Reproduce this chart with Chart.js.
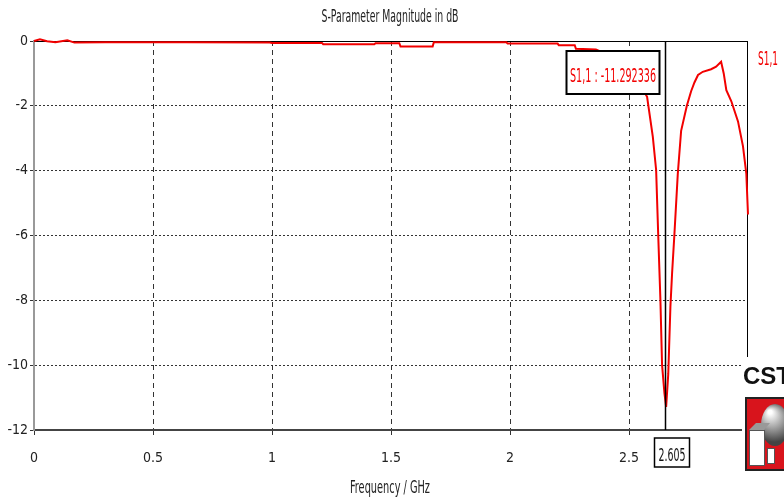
<!DOCTYPE html>
<html>
<head>
<meta charset="utf-8">
<title>S-Parameter Magnitude in dB</title>
<script src="https://cdn.jsdelivr.net/npm/chart.js@4/dist/chart.umd.min.js"></script>
<style>
  html, body { margin: 0; padding: 0; background: #fff; }
</style>
</head>
<body>
<canvas id="grafico" width="784" height="500"></canvas>
<script>
const frecuencias = [0, 0.025, 0.055, 0.09, 0.14, 0.17, 0.3, 0.644, 0.99, 1.0, 1.21, 1.215, 1.43, 1.435, 1.535, 1.54, 1.675, 1.68, 1.985, 1.99, 2.2, 2.205, 2.272, 2.277, 2.361, 2.42, 2.48, 2.53, 2.576, 2.6, 2.614, 2.623, 2.632, 2.639, 2.649, 2.656, 2.665, 2.674, 2.681, 2.691, 2.705, 2.719, 2.743, 2.761, 2.775, 2.79, 2.81, 2.845, 2.866, 2.887, 2.898, 2.909, 2.93, 2.958, 2.979, 2.993, 3.0];
const s11 = [0, 0.05, -0.01, -0.04, 0.02, -0.05, -0.04, -0.04, -0.05, -0.06, -0.06, -0.1, -0.1, -0.07, -0.07, -0.17, -0.17, -0.04, -0.04, -0.08, -0.08, -0.13, -0.13, -0.24, -0.26, -0.45, -0.75, -1.15, -1.72, -2.95, -3.98, -6.04, -8.0, -10.0, -10.87, -11.29, -10.27, -8.2, -7.17, -5.94, -4.1, -2.77, -2.0, -1.55, -1.28, -1.05, -0.95, -0.87, -0.79, -0.64, -1.0, -1.52, -1.86, -2.48, -3.25, -4.1, -5.35];

const ticksY = [0, -2, -4, -6, -8, -10, -12];
const ticksX = [0, 0.5, 1, 1.5, 2, 2.5, 3];

const titulo = "S-Parameter Magnitude in dB";
const tituloX = "Frequency / GHz";
const nombreSerie = "S1,1";
const marcadorTexto = "2.605";      // etiqueta del marcador en el eje X
const marcadorValor = "-11.292336"; // valor mostrado en el cuadro

const fuente = "'DejaVu Sans Condensed', 'DejaVu Sans', sans-serif";
const rojo = "#f20000";

const puntos = frecuencias.map((f, i) => ({ x: f, y: s11[i] }));

// Texto comprimido horizontalmente hasta el ancho pedido (la fuente original es muy angosta)
function textoAngosto(ctx, texto, x, y, size, ancho, color, align) {
    ctx.save();
    ctx.font = size + "px " + fuente;
    const escala = ancho / ctx.measureText(texto).width;
    ctx.fillStyle = color;
    ctx.textAlign = align || "center";
    ctx.textBaseline = "alphabetic";
    ctx.translate(x, y);
    ctx.scale(escala, 1);
    ctx.fillText(texto, 0, 0);
    ctx.restore();
}

// Dibuja títulos, marcador, cuadro de valor, leyenda y logo
const extras = {
    id: "extras",
    beforeDatasetsDraw(chart) {
        const { ctx, chartArea: a } = chart;
        ctx.save();
        ctx.strokeStyle = "#000";
        ctx.lineWidth = 1;
        ctx.beginPath();
        ctx.moveTo(a.left, a.top + 0.5);
        ctx.lineTo(a.right, a.top + 0.5);
        ctx.moveTo(a.right - 0.5, a.top);
        ctx.lineTo(a.right - 0.5, a.bottom);
        ctx.stroke();
        ctx.restore();
    },
    afterDraw(chart) {
        const { ctx, chartArea: a, scales } = chart;
        const centro = (a.left + a.right) / 2;

        // títulos
        textoAngosto(ctx, titulo, centro - 1, 22, 17, 137, "#222");
        textoAngosto(ctx, tituloX, centro - 1, 493, 17, 80, "#222");

        let iMin = 0;
        s11.forEach((v, i) => { if (v < s11[iMin]) iMin = i; });
        const mx = Math.round(scales.x.getPixelForValue(frecuencias[iMin])) - 0.5;

        ctx.save();
        // línea vertical del marcador
        ctx.strokeStyle = "#000";
        ctx.lineWidth = 1.5;
        ctx.beginPath();
        ctx.moveTo(mx, a.top);
        ctx.lineTo(mx, a.bottom);
        ctx.stroke();

        // cuadro con el valor
        ctx.fillStyle = "#fff";
        ctx.fillRect(mx - 99, a.top + 10, 93, 43);
        ctx.lineWidth = 2;
        ctx.strokeRect(mx - 99, a.top + 10, 93, 43);

        // etiqueta del marcador en el eje X
        ctx.fillStyle = "#fff";
        ctx.fillRect(mx - 11, a.bottom + 8, 35, 29);
        ctx.lineWidth = 1.5;
        ctx.strokeRect(mx - 11, a.bottom + 8, 35, 29);
        ctx.restore();

        textoAngosto(ctx, nombreSerie + " : " + marcadorValor, mx - 52.5, a.top + 41, 20, 86, rojo);
        textoAngosto(ctx, marcadorTexto, mx + 6.5, a.bottom + 31, 17, 27, "#111");
        textoAngosto(ctx, nombreSerie, a.right + 10, a.top + 24, 19, 20, rojo, "left");

        // logo CST
        ctx.save();
        ctx.fillStyle = "#fff";
        ctx.fillRect(a.right - 6, a.bottom - 73, 60, 150);
        ctx.fillStyle = "#111";
        ctx.textBaseline = "alphabetic";
        ctx.font = "bold 24px 'Liberation Sans', sans-serif";
        ctx.fillText("CST", a.right - 5, a.bottom - 46);
        ctx.fillStyle = "#222";
        ctx.fillRect(a.right - 3, a.bottom - 33, 45, 74);
        ctx.fillStyle = "#d8141c";
        ctx.fillRect(a.right - 1, a.bottom - 31, 41, 70);
        const g = ctx.createRadialGradient(a.right + 22, a.bottom - 18, 2, a.right + 26, a.bottom - 8, 20);
        g.addColorStop(0, "#fff");
        g.addColorStop(1, "#444");
        ctx.fillStyle = g;
        ctx.beginPath();
        ctx.ellipse(a.right + 27, a.bottom - 5, 14, 21, 0, 0, 2 * Math.PI);
        ctx.fill();
        ctx.fillStyle = "#999";
        ctx.beginPath();
        ctx.moveTo(a.right + 1, a.bottom);
        ctx.lineTo(a.right + 8, a.bottom - 7);
        ctx.lineTo(a.right + 22, a.bottom - 7);
        ctx.lineTo(a.right + 16, a.bottom);
        ctx.fill();
        ctx.fillStyle = "#fff";
        ctx.fillRect(a.right + 1, a.bottom, 16, 36);
        ctx.strokeStyle = "#555";
        ctx.lineWidth = 1;
        ctx.strokeRect(a.right + 1.5, a.bottom + 0.5, 15, 35);
        ctx.fillRect(a.right + 19, a.bottom + 18, 8, 16);
        ctx.strokeRect(a.right + 19.5, a.bottom + 18.5, 7, 15);
        ctx.restore();
    }
};

new Chart(document.getElementById("grafico"), {
    type: "line",
    data: {
        datasets: [{
            label: nombreSerie,
            data: puntos,
            borderColor: rojo,
            borderWidth: 2,
            pointRadius: 0,
            tension: 0,
            fill: false,
            clip: 4
        }]
    },
    options: {
        responsive: false,
        animation: false,
        events: [],
        layout: { padding: { top: 41, right: 36, bottom: 0, left: 0 } },
        plugins: {
            legend: { display: false },
            tooltip: { enabled: false },
            title: { display: false }
        },
        scales: {
            x: {
                type: "linear",
                min: 0,
                max: 3,
                afterFit: s => { s.height = 70; },
                afterBuildTicks: s => { s.ticks = ticksX.map(v => ({ value: v })); },
                ticks: {
                    color: "#222",
                    font: { family: fuente, size: 14 },
                    padding: 15,
                    maxRotation: 0,
                    callback: v => (v === 3 ? "" : String(v))
                },
                grid: {
                    color: c => (c.tick && (c.tick.value === 0 || c.tick.value === 3) ? "rgba(0,0,0,0)" : "#333"),
                    tickColor: "#333",
                    tickLength: 5,
                    lineWidth: 1
                },
                border: { color: "#444", width: 2, dash: [5, 4] }
            },
            y: {
                min: -12,
                max: 0,
                afterFit: s => { s.width = 34; },
                afterBuildTicks: s => { s.ticks = ticksY.map(v => ({ value: v })); },
                ticks: {
                    color: "#222",
                    font: { family: fuente, size: 14 },
                    padding: 2
                },
                grid: {
                    color: c => (c.tick && (c.tick.value === 0 || c.tick.value === -12) ? "rgba(0,0,0,0)" : "#333"),
                    tickColor: "#333",
                    tickLength: 4,
                    lineWidth: 1
                },
                border: { color: "#999", width: 2, dash: [2, 2] }
            }
        }
    },
    plugins: [extras]
});
</script>
</body>
</html>
